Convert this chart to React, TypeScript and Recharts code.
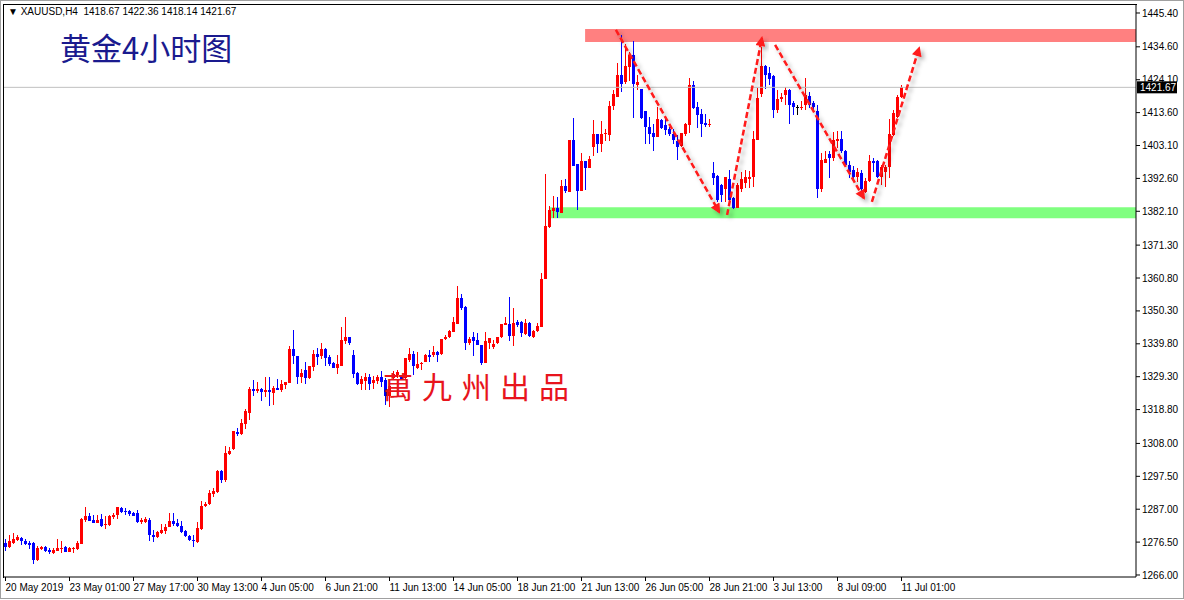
import { Bar, ComposedChart, ReferenceArea, ReferenceLine, XAxis, YAxis } from 'recharts';

// XAUUSD H4, 20 May – 11 Jul 2019
const OPEN = [
  1276.1, 1274.8, 1276.1, 1277.2, 1277.8, 1276.8, 1276.2, 1276.2, 1270.8, 1274.3,
  1274.9, 1274.0, 1273.0, 1273.6, 1274.3, 1274.9, 1273.3, 1274.3, 1274.3, 1275.9,
  1283.5, 1284.8, 1283.5, 1282.6, 1283.9, 1282.0, 1282.0, 1284.5, 1285.1, 1287.4,
  1286.4, 1286.4, 1285.8, 1285.8, 1282.9, 1282.9, 1283.5, 1278.8, 1278.1, 1279.4,
  1280.0, 1281.3, 1283.2, 1282.6, 1281.6, 1280.0, 1278.4, 1277.2, 1276.5, 1280.7,
  1288.0, 1288.6, 1291.8, 1292.5, 1299.2, 1296.3, 1304.6, 1306.2, 1311.6, 1311.0,
  1314.2, 1317.7, 1325.4, 1324.7, 1325.4, 1324.4, 1325.1, 1324.1, 1325.7, 1325.1,
  1326.6, 1327.3, 1338.1, 1335.9, 1329.2, 1331.4, 1328.9, 1332.4, 1336.5, 1335.9,
  1338.1, 1335.6, 1333.7, 1332.1, 1332.7, 1340.7, 1342.0, 1336.3, 1330.5, 1327.0,
  1327.9, 1329.2, 1327.3, 1328.0, 1329.3, 1328.2, 1323.0, 1329.0, 1329.8, 1329.2,
  1328.9, 1334.7, 1336.6, 1332.1, 1333.4, 1334.0, 1336.3, 1336.3, 1337.2, 1336.6,
  1341.4, 1342.0, 1343.6, 1346.2, 1354.5, 1351.6, 1340.1, 1342.0, 1341.0, 1339.5,
  1333.7, 1340.1, 1338.8, 1340.1, 1342.0, 1345.8, 1346.2, 1342.3, 1346.8, 1346.9,
  1343.0, 1346.6, 1342.1, 1343.9, 1345.3, 1360.5, 1377.2, 1382.3, 1383.1, 1381.5,
  1390.2, 1388.3, 1404.9, 1397.2, 1388.6, 1398.2, 1396.0, 1402.7, 1406.8, 1403.6,
  1406.8, 1406.5, 1415.7, 1418.6, 1425.6, 1423.4, 1428.2, 1432.0, 1422.5, 1421.2,
  1414.1, 1409.0, 1407.1, 1405.9, 1411.3, 1409.7, 1408.4, 1406.8, 1404.6, 1403.0,
  1406.8, 1409.7, 1422.4, 1415.4, 1413.2, 1410.3, 1409.7, 1394.4, 1393.4, 1390.5,
  1389.2, 1392.4, 1386.3, 1383.1, 1389.2, 1391.2, 1392.4, 1392.9, 1404.9, 1419.6,
  1428.5, 1426.3, 1425.3, 1414.5, 1418.0, 1419.3, 1420.9, 1416.7, 1415.4, 1415.0,
  1416.1, 1418.9, 1416.6, 1414.1, 1389.1, 1397.6, 1400.4, 1399.0, 1404.6, 1405.2,
  1401.4, 1396.9, 1395.3, 1393.2, 1394.4, 1388.4, 1391.8, 1398.2, 1398.2, 1393.2,
  1394.8, 1396.1, 1406.5, 1412.3, 1418.67,
];
const HIGH = [
  1277.5, 1278.8, 1279.4, 1278.8, 1278.1, 1277.5, 1276.8, 1276.5, 1275.2, 1275.2,
  1275.2, 1274.6, 1274.6, 1277.5, 1276.8, 1275.2, 1274.9, 1274.9, 1276.8, 1284.2,
  1287.7, 1285.8, 1285.1, 1285.1, 1285.5, 1284.8, 1285.1, 1285.8, 1287.7, 1287.7,
  1287.4, 1286.7, 1286.1, 1286.7, 1284.2, 1284.5, 1284.2, 1280.3, 1280.0, 1282.3,
  1282.3, 1285.8, 1285.8, 1283.9, 1283.2, 1280.3, 1278.8, 1278.8, 1282.9, 1289.6,
  1289.3, 1293.1, 1293.8, 1299.5, 1299.5, 1307.2, 1306.9, 1312.0, 1312.9, 1315.8,
  1319.0, 1326.0, 1328.2, 1327.6, 1325.7, 1329.2, 1329.2, 1326.3, 1328.6, 1328.2,
  1327.6, 1339.1, 1344.2, 1335.9, 1331.8, 1334.0, 1332.7, 1337.8, 1338.5, 1340.1,
  1338.5, 1336.2, 1334.0, 1336.2, 1345.2, 1348.4, 1342.0, 1337.9, 1330.8, 1329.5,
  1330.5, 1330.2, 1329.6, 1330.0, 1331.0, 1329.0, 1327.2, 1331.0, 1331.5, 1329.6,
  1335.3, 1338.5, 1337.5, 1337.2, 1334.0, 1336.6, 1337.9, 1339.1, 1337.5, 1341.4,
  1342.6, 1344.2, 1348.4, 1358.3, 1355.7, 1351.9, 1342.0, 1343.6, 1343.3, 1339.5,
  1343.6, 1341.7, 1341.0, 1342.0, 1346.2, 1348.4, 1354.8, 1351.3, 1347.4, 1347.2,
  1347.6, 1346.9, 1344.2, 1346.4, 1362.5, 1394.0, 1383.8, 1387.0, 1386.8, 1392.0,
  1392.4, 1404.9, 1411.9, 1397.2, 1400.7, 1398.2, 1399.8, 1411.3, 1406.8, 1411.0,
  1408.4, 1417.3, 1420.9, 1429.5, 1438.4, 1435.5, 1433.0, 1436.5, 1425.6, 1421.2,
  1414.1, 1412.2, 1410.0, 1415.4, 1411.6, 1411.9, 1409.0, 1408.4, 1406.5, 1407.1,
  1410.3, 1424.7, 1423.7, 1417.0, 1414.8, 1413.2, 1411.6, 1397.9, 1393.7, 1390.8,
  1393.1, 1395.3, 1386.8, 1391.1, 1394.8, 1395.4, 1395.0, 1407.8, 1421.4, 1434.6,
  1428.8, 1428.2, 1425.6, 1420.9, 1419.8, 1421.8, 1421.2, 1417.3, 1416.1, 1417.3,
  1424.6, 1420.3, 1417.2, 1416.1, 1400.6, 1401.2, 1401.2, 1407.5, 1407.8, 1407.8,
  1401.7, 1398.0, 1396.4, 1395.8, 1395.2, 1392.7, 1400.1, 1399.0, 1398.5, 1396.9,
  1396.9, 1411.6, 1414.5, 1419.3, 1422.36,
];
const LOW = [
  1273.6, 1274.5, 1275.9, 1276.8, 1275.6, 1275.6, 1274.3, 1269.5, 1270.5, 1274.0,
  1273.3, 1272.7, 1272.7, 1273.6, 1273.0, 1273.3, 1273.3, 1273.0, 1274.0, 1275.9,
  1282.9, 1283.2, 1282.6, 1282.6, 1281.3, 1280.7, 1281.6, 1283.9, 1283.9, 1285.8,
  1285.1, 1284.8, 1284.8, 1282.6, 1282.3, 1282.6, 1276.8, 1276.5, 1277.8, 1279.1,
  1279.1, 1281.3, 1281.6, 1281.3, 1279.4, 1278.1, 1276.8, 1274.9, 1276.2, 1280.3,
  1287.7, 1288.3, 1290.9, 1292.2, 1295.4, 1295.7, 1304.3, 1305.9, 1310.4, 1310.7,
  1312.6, 1315.5, 1323.1, 1324.1, 1321.5, 1322.8, 1319.9, 1320.3, 1325.1, 1324.4,
  1325.4, 1327.3, 1333.4, 1327.0, 1327.3, 1327.0, 1328.6, 1331.1, 1333.0, 1335.0,
  1332.7, 1332.7, 1332.1, 1330.2, 1332.7, 1339.8, 1339.5, 1328.9, 1326.6, 1325.1,
  1325.1, 1325.1, 1325.4, 1327.0, 1326.1, 1320.2, 1319.7, 1328.5, 1329.0, 1328.2,
  1328.6, 1334.0, 1329.9, 1331.8, 1331.5, 1334.0, 1334.0, 1335.6, 1334.0, 1336.3,
  1341.0, 1341.7, 1343.6, 1346.2, 1350.6, 1337.9, 1339.5, 1335.9, 1339.5, 1333.1,
  1333.7, 1338.2, 1338.2, 1339.8, 1341.7, 1345.8, 1340.7, 1339.1, 1345.2, 1342.1,
  1342.6, 1342.1, 1341.6, 1343.6, 1345.3, 1360.5, 1376.9, 1379.9, 1379.9, 1381.5,
  1387.9, 1388.3, 1396.6, 1382.5, 1388.6, 1388.9, 1396.0, 1399.8, 1400.7, 1401.1,
  1404.6, 1404.6, 1414.5, 1418.6, 1420.2, 1422.8, 1423.7, 1411.9, 1420.9, 1411.6,
  1403.6, 1403.6, 1401.4, 1405.9, 1408.4, 1406.5, 1406.2, 1403.6, 1398.5, 1402.7,
  1406.2, 1407.1, 1414.8, 1408.7, 1405.9, 1409.0, 1409.0, 1390.5, 1385.2, 1385.2,
  1385.2, 1385.2, 1382.9, 1383.1, 1388.4, 1389.5, 1389.5, 1390.0, 1404.9, 1418.7,
  1421.2, 1422.4, 1411.8, 1413.4, 1416.9, 1416.1, 1409.9, 1412.9, 1412.9, 1414.5,
  1414.5, 1415.0, 1414.5, 1386.5, 1388.1, 1397.6, 1392.7, 1398.0, 1402.4, 1400.6,
  1396.4, 1392.7, 1391.6, 1391.6, 1388.4, 1387.9, 1391.6, 1394.8, 1392.7, 1390.5,
  1390.0, 1392.7, 1406.0, 1412.0, 1418.14,
];
const CLOSE = [
  1274.8, 1276.8, 1277.5, 1278.1, 1276.8, 1275.9, 1275.6, 1270.8, 1274.6, 1274.9,
  1273.6, 1273.3, 1274.0, 1274.6, 1274.6, 1273.3, 1274.6, 1274.6, 1276.2, 1283.9,
  1284.8, 1283.2, 1282.6, 1283.5, 1281.6, 1282.3, 1284.8, 1285.1, 1287.7, 1286.1,
  1286.1, 1285.5, 1284.8, 1282.9, 1283.5, 1283.9, 1278.8, 1278.1, 1279.7, 1280.3,
  1281.3, 1283.2, 1282.3, 1281.6, 1279.7, 1278.4, 1277.2, 1276.8, 1281.0, 1288.0,
  1288.6, 1292.2, 1292.8, 1299.2, 1296.3, 1304.9, 1305.6, 1312.0, 1311.0, 1314.5,
  1318.4, 1325.4, 1324.7, 1325.4, 1324.4, 1325.1, 1324.4, 1325.7, 1325.1, 1327.0,
  1327.6, 1338.1, 1335.9, 1329.2, 1330.5, 1328.9, 1332.7, 1336.5, 1335.6, 1338.1,
  1335.3, 1333.4, 1332.1, 1333.4, 1341.0, 1342.0, 1340.1, 1330.2, 1327.0, 1328.6,
  1329.2, 1327.0, 1328.3, 1329.2, 1327.7, 1323.0, 1326.3, 1330.2, 1330.8, 1328.6,
  1335.3, 1336.6, 1332.7, 1333.4, 1333.7, 1336.3, 1335.6, 1337.2, 1336.3, 1341.4,
  1342.0, 1343.9, 1346.8, 1354.5, 1351.3, 1340.1, 1341.4, 1340.7, 1339.5, 1333.7,
  1340.7, 1341.7, 1339.8, 1342.0, 1346.2, 1346.5, 1342.3, 1346.5, 1345.8, 1343.2,
  1346.4, 1342.3, 1343.9, 1345.6, 1360.5, 1377.4, 1382.5, 1383.1, 1382.0, 1390.2,
  1388.7, 1404.9, 1396.6, 1388.6, 1398.2, 1396.0, 1398.8, 1406.8, 1403.6, 1406.8,
  1407.1, 1415.7, 1419.6, 1425.6, 1422.8, 1428.5, 1432.0, 1422.8, 1423.4, 1411.9,
  1409.0, 1406.8, 1405.9, 1411.6, 1408.7, 1408.1, 1406.8, 1404.9, 1402.7, 1407.1,
  1410.0, 1422.4, 1415.1, 1412.9, 1410.0, 1409.7, 1410.0, 1392.8, 1385.7, 1387.3,
  1392.9, 1385.7, 1383.1, 1390.5, 1392.4, 1393.1, 1393.2, 1405.2, 1418.3, 1428.5,
  1425.6, 1424.4, 1414.5, 1418.0, 1418.7, 1420.9, 1416.1, 1415.4, 1415.4, 1415.4,
  1419.3, 1416.1, 1415.5, 1389.1, 1398.5, 1398.8, 1399.0, 1404.9, 1405.2, 1401.2,
  1396.9, 1394.8, 1393.2, 1394.8, 1389.1, 1391.8, 1398.2, 1397.4, 1393.2, 1396.1,
  1396.1, 1406.9, 1413.4, 1418.7, 1421.67,
];

const TIME_LABELS = [
  '20 May 2019', '23 May 01:00', '27 May 17:00', '30 May 13:00', '4 Jun 05:00',
  '6 Jun 21:00', '11 Jun 13:00', '14 Jun 05:00', '18 Jun 21:00', '21 Jun 13:00',
  '26 Jun 05:00', '28 Jun 21:00', '3 Jul 13:00', '8 Jul 09:00', '11 Jul 01:00',
];
const BARS_PER_LABEL = 16;

const PRICE_TICKS = [
  1266.0, 1276.5, 1287.0, 1297.5, 1308.0, 1318.8, 1329.3, 1339.8, 1350.3,
  1360.8, 1371.3, 1382.1, 1392.6, 1403.1, 1413.6, 1424.1, 1434.6, 1445.4,
];

const LAST_PRICE = 1421.67;

// resistance / support zones: [fromBar, lowPrice, highPrice]
const RESISTANCE = [144.9, 1436.1, 1440.3];
const SUPPORT = [135.9, 1379.9, 1383.4];

// hand-drawn arrows: [fromBar, fromPrice, toBar, toPrice]
const ARROWS = [
  [152.6, 1440.0, 178.4, 1381.9],
  [180.4, 1380.9, 189.1, 1437.4],
  [192.4, 1435.2, 214.6, 1386.3],
  [216.6, 1385.1, 228.4, 1434.2],
];

const X_DOMAIN: [number, number] = [-0.625, 282.625];
const Y_DOMAIN: [number, number] = [1265.36, 1448.27];

const UP = '#ff0000';
const DOWN = '#0000ff';
const FONT = '"Liberation Sans", Arial, sans-serif';

const candles = OPEN.map((open, i) => ({
  i,
  open,
  high: HIGH[i],
  low: LOW[i],
  close: CLOSE[i],
}));

function Candle(props: any) {
  const { x, y, width, height, payload } = props;
  if (!payload) return null;
  const { open, close, high, low } = payload;
  const color = close > open ? UP : close < open ? DOWN : '#000000';
  const cx = Math.round(x + width / 2 - 0.5) + 0.5;
  const k = height / (high - low || 1);
  const top = Math.round(y + (high - Math.max(open, close)) * k);
  const bot = Math.round(y + (high - Math.min(open, close)) * k);
  return (
    <g>
      <line x1={cx} x2={cx} y1={Math.round(y)} y2={Math.round(y + height)} stroke={color} strokeWidth={1} />
      <rect x={cx - 1.5} y={top} width={3} height={Math.max(1, bot - top)} fill={color} />
    </g>
  );
}

function TimeTick(props: any) {
  const { x, y, payload } = props;
  const label = TIME_LABELS[Math.round(payload.value / BARS_PER_LABEL)];
  return (
    <text x={x} y={y} dy={8} textAnchor="start" fontSize={10} fontFamily={FONT} fill="#000">
      {label}
    </text>
  );
}

function PriceTag(props: any) {
  const vb = props.viewBox;
  if (!vb) return null;
  const left = vb.x + vb.width + 1;
  return (
    <g>
      <rect x={left} y={vb.y - 6} width={40} height={12} fill="#000" />
      <text x={left + 3} y={vb.y + 4} fontSize={10} fontFamily={FONT} fill="#fff">
        {LAST_PRICE.toFixed(2)}
      </text>
    </g>
  );
}

function Arrow(props: any) {
  const { x1, y1, x2, y2 } = props;
  return (
    <line
      x1={x1}
      y1={y1}
      x2={x2}
      y2={y2}
      stroke="#ff1a1a"
      strokeWidth={2.5}
      strokeDasharray="6 3"
      markerEnd="url(#arrowHead)"
      filter="url(#arrowShadow)"
    />
  );
}

export default function App() {
  const ticks = TIME_LABELS.map((_, k) => k * BARS_PER_LABEL);
  return (
    <div style={{ position: 'relative', width: 1184, height: 600, background: '#fff', overflow: 'hidden' }}>
      <style>{'body{margin:0}'}</style>
      <svg width={0} height={0} style={{ position: 'absolute' }}>
        <defs>
          <marker
            id="arrowHead"
            viewBox="0 0 10 10"
            refX={8}
            refY={5}
            markerWidth={5}
            markerHeight={4}
            orient="auto"
            markerUnits="strokeWidth"
          >
            <path d="M0,0 L10,5 L0,10 z" fill="#ff1a1a" />
          </marker>
          <filter id="arrowShadow" x="-20%" y="-20%" width="140%" height="140%">
            <feDropShadow dx={3} dy={3} stdDeviation={2} floodColor="#000" floodOpacity={0.3} />
          </filter>
        </defs>
      </svg>

      <ComposedChart
        width={1184}
        height={600}
        data={candles}
        margin={{ top: 4, right: 0, bottom: 0, left: 3 }}
      >
        <XAxis
          dataKey="i"
          type="number"
          domain={X_DOMAIN}
          allowDataOverflow
          ticks={ticks}
          interval={0}
          height={23}
          tickSize={4}
          tickMargin={2}
          axisLine={{ stroke: '#000' }}
          tickLine={{ stroke: '#000' }}
          tick={<TimeTick />}
        />
        <YAxis
          orientation="right"
          type="number"
          domain={Y_DOMAIN}
          allowDataOverflow
          ticks={PRICE_TICKS}
          interval={0}
          width={48}
          tickSize={4}
          tickMargin={2}
          axisLine={{ stroke: '#000' }}
          tickLine={{ stroke: '#000' }}
          tick={{ fontSize: 10, fontFamily: FONT, fill: '#000' }}
          tickFormatter={(v: number) => v.toFixed(2)}
        />
        <ReferenceArea
          x1={RESISTANCE[0]}
          x2={X_DOMAIN[1]}
          y1={RESISTANCE[1]}
          y2={RESISTANCE[2]}
          fill="#ff8080"
          fillOpacity={1}
          stroke="none"
        />
        <ReferenceArea
          x1={SUPPORT[0]}
          x2={X_DOMAIN[1]}
          y1={SUPPORT[1]}
          y2={SUPPORT[2]}
          fill="#80ff80"
          fillOpacity={1}
          stroke="none"
        />
        <ReferenceLine y={LAST_PRICE} stroke="#c0c0c0" strokeWidth={1} label={<PriceTag />} />
        <Bar
          dataKey={(d: any) => [d.low, d.high]}
          barSize={3}
          shape={<Candle />}
          isAnimationActive={false}
        />
        {ARROWS.map(([a, b, c, d], k) => (
          <ReferenceLine
            key={k}
            segment={[
              { x: a, y: b },
              { x: c, y: d },
            ]}
            shape={<Arrow />}
          />
        ))}
      </ComposedChart>

      {/* chart frame */}
      <div
        style={{
          position: 'absolute',
          left: 3,
          top: 4,
          width: 1133,
          height: 573,
          borderLeft: '1px solid #000',
          borderTop: '1px solid #000',
          pointerEvents: 'none',
        }}
      />
      <div
        style={{
          position: 'absolute',
          left: 0,
          top: 0,
          width: 1182,
          height: 597,
          border: '1px solid #a0a0a0',
          pointerEvents: 'none',
        }}
      />

      <div
        style={{
          position: 'absolute',
          left: 8,
          top: 6,
          fontFamily: FONT,
          fontSize: 10,
          lineHeight: '12px',
          color: '#000',
          whiteSpace: 'pre',
        }}
      >
        {'▼ XAUUSD,H4  1418.67 1422.36 1418.14 1421.67'}
      </div>
      <div
        style={{
          position: 'absolute',
          left: 60,
          top: 30,
          fontFamily: '"Noto Sans CJK SC", sans-serif',
          fontSize: 31,
          lineHeight: '33px',
          color: '#1a1a8e',
          whiteSpace: 'nowrap',
        }}
      >
        黄金4小时图
      </div>
      <div
        style={{
          position: 'absolute',
          left: 383,
          top: 369,
          fontFamily: '"Noto Sans CJK TC", sans-serif',
          fontSize: 30,
          lineHeight: '32px',
          letterSpacing: 9,
          color: '#e8141c',
          whiteSpace: 'nowrap',
        }}
      >
        萬九州出品
      </div>
    </div>
  );
}
